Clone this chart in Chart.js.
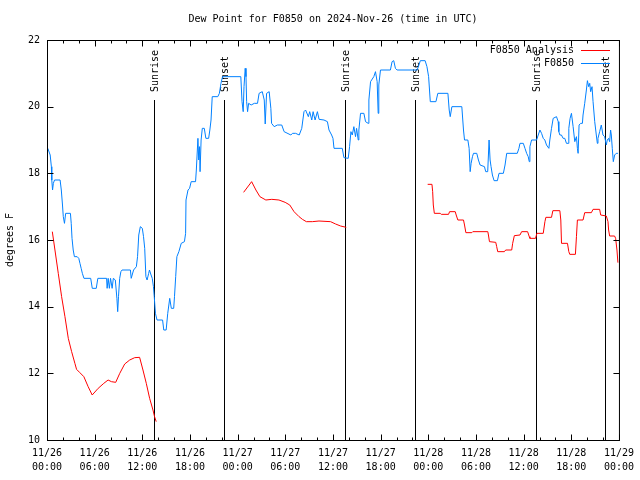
<!DOCTYPE html>
<html>
<head>
<meta charset="utf-8">
<title>Dew Point for F0850</title>
<script src="https://cdn.jsdelivr.net/npm/chart.js@4.4.1/dist/chart.umd.min.js"></script>
<style>
    html, body { margin: 0; padding: 0; background: #fff; }
    #c { display: block; }
</style>
</head>
<body>
<canvas id="c" width="640" height="480"></canvas>
<script>
// hours since 11/26 00:00 UTC, dew point in F
const obsPoints = [
    [0.1, 18.75], [0.4, 18.55], [0.55, 18.2], [0.6, 17.8], [0.7, 17.5], [0.8, 17.7],
    [0.95, 17.8], [1.65, 17.8], [1.8, 17.5], [1.95, 17.05], [2.05, 16.7], [2.2, 16.5],
    [2.35, 16.8], [2.95, 16.8], [3.05, 16.5], [3.15, 16.05], [3.3, 15.7], [3.45, 15.5],
    [3.8, 15.5], [4.0, 15.45], [4.15, 15.3], [4.3, 15.15], [4.45, 15.0], [4.65, 14.85],
    [5.5, 14.85], [5.7, 14.55], [6.2, 14.55], [6.4, 14.85], [7.5, 14.85], [7.57, 14.55],
    [7.7, 14.85], [7.85, 14.55], [8.0, 14.85], [8.2, 14.55], [8.35, 14.85], [8.6, 14.8],
    [8.8, 14.25], [8.9, 13.85], [9.0, 14.3], [9.15, 14.85], [9.3, 15.05], [9.45, 15.1],
    [10.5, 15.1], [10.6, 14.85], [10.9, 15.1], [11.25, 15.2], [11.4, 15.5], [11.55, 16.15],
    [11.75, 16.4], [12.0, 16.35], [12.15, 16.1], [12.3, 15.75], [12.45, 14.9], [12.6, 14.8],
    [12.8, 15.0], [12.9, 15.1], [13.1, 14.95], [13.25, 14.85], [13.4, 14.6], [13.5, 14.3],
    [13.65, 13.8], [13.85, 13.6], [14.55, 13.6], [14.7, 13.3], [15.0, 13.3], [15.2, 13.8],
    [15.45, 14.25], [15.65, 13.95], [15.95, 13.95], [16.05, 14.3], [16.2, 14.9], [16.35, 15.5],
    [16.6, 15.65], [16.9, 15.9], [17.3, 15.95], [17.45, 16.2], [17.5, 17.2], [17.75, 17.5],
    [17.95, 17.55], [18.15, 17.75], [18.7, 17.75], [18.8, 18.1], [19.0, 19.05], [19.1, 18.4],
    [19.2, 18.8], [19.27, 18.05], [19.4, 19.0], [19.55, 19.35], [19.8, 19.35], [20.0, 19.05],
    [20.35, 19.05], [20.5, 19.3], [20.65, 19.6], [20.8, 20.3], [21.5, 20.3], [21.7, 20.4],
    [21.9, 20.7], [22.1, 20.9], [24.4, 20.9], [24.55, 20.15], [24.7, 19.85], [24.8, 20.6],
    [24.95, 21.15], [25.05, 20.9], [25.13, 20.15], [25.25, 19.85], [25.38, 20.1], [25.7, 20.05],
    [26.1, 20.1], [26.5, 20.1], [26.7, 20.4], [27.1, 20.45], [27.35, 20.2], [27.47, 19.48],
    [27.64, 20.4], [27.97, 20.45], [28.18, 19.95], [28.27, 19.5], [28.6, 19.4], [29.0, 19.45],
    [29.55, 19.45], [29.85, 19.25], [30.7, 19.15], [30.9, 19.2], [31.3, 19.2], [31.75, 19.15],
    [32.07, 19.35], [32.35, 19.85], [32.55, 19.9], [32.9, 19.7], [33.07, 19.85], [33.33, 19.6],
    [33.5, 19.85], [33.75, 19.6], [34.04, 19.85], [34.25, 19.62], [34.87, 19.6], [35.3, 19.55],
    [35.5, 19.3], [35.83, 19.15], [36.0, 19.05], [36.13, 18.75], [37.17, 18.75], [37.38, 18.47],
    [37.92, 18.45], [38.09, 18.8], [38.26, 19.25], [38.43, 19.15], [38.63, 19.4], [38.84, 19.1],
    [38.97, 19.35], [39.18, 19.0], [39.26, 19.3], [39.47, 19.8], [39.89, 19.8], [40.1, 19.55],
    [40.43, 19.5], [40.52, 20.2], [40.73, 20.75], [41.14, 20.9], [41.35, 21.05], [41.56, 20.75],
    [41.69, 19.8], [41.77, 20.65], [41.98, 21.1], [43.23, 21.1], [43.44, 21.35], [43.65, 21.38],
    [43.86, 21.15], [44.07, 21.1], [46.6, 21.1], [47.0, 21.38], [47.6, 21.38], [47.83, 21.2],
    [48.04, 20.9], [48.25, 20.15], [48.96, 20.15], [49.2, 20.4], [50.47, 20.4], [50.63, 19.9],
    [50.76, 19.7], [50.97, 20.0], [52.22, 20.0], [52.43, 19.3], [52.56, 19.0], [52.98, 19.0],
    [53.14, 18.75], [53.27, 18.05], [53.39, 18.3], [53.56, 18.5], [53.69, 18.6], [54.1, 18.6],
    [54.31, 18.4], [54.52, 18.25], [55.07, 18.2], [55.23, 18.05], [55.48, 18.05], [55.65, 19.0],
    [55.78, 18.4], [55.9, 18.2], [56.07, 17.95], [56.28, 17.78], [56.7, 17.78], [56.9, 18.0],
    [57.45, 18.0], [57.66, 18.25], [57.87, 18.6], [59.2, 18.6], [59.41, 18.75], [59.54, 18.9],
    [59.96, 18.9], [60.17, 18.75], [60.38, 18.6], [60.58, 18.5], [60.71, 18.35], [60.79, 18.8],
    [61.0, 19.0], [61.63, 19.0], [61.84, 19.15], [62.05, 19.3], [62.26, 19.2], [62.47, 19.05],
    [62.67, 19.0], [62.88, 18.85], [63.18, 18.75], [63.3, 19.0], [63.51, 19.35], [63.72, 19.65],
    [64.14, 19.7], [64.35, 19.55], [64.43, 19.25], [64.56, 19.15], [64.76, 19.15], [64.97, 19.05],
    [65.18, 19.05], [65.39, 18.9], [65.6, 18.9], [65.69, 19.35], [65.85, 19.65], [66.02, 19.8],
    [66.23, 19.4], [66.44, 18.95], [66.65, 19.1], [66.77, 18.75], [66.86, 18.6], [66.98, 19.45],
    [67.19, 19.5], [67.4, 19.5], [67.48, 19.75], [67.69, 20.1], [67.9, 20.5], [68.03, 20.78],
    [68.19, 20.6], [68.32, 20.7], [68.44, 20.45], [68.61, 20.6], [68.74, 20.15], [68.95, 19.55],
    [69.15, 19.15], [69.28, 18.9], [69.36, 19.05], [69.57, 19.25], [69.78, 19.45], [69.99, 19.15],
    [70.2, 19.1], [70.41, 18.85], [70.53, 19.0], [70.7, 19.05], [70.83, 18.95], [70.95, 19.3],
    [71.04, 19.15], [71.16, 18.75], [71.29, 18.35], [71.46, 18.55], [71.66, 18.6], [71.87, 18.6]
]

// analysis, null = no data (gap in the line)
const analysisPoints = [
    [0.67, 16.25], [1.0, 15.7], [1.42, 15.0], [1.84, 14.3], [2.26, 13.7], [2.68, 13.05],
    [3.1, 12.65], [3.51, 12.3], [3.72, 12.12], [4.14, 12.02], [4.64, 11.9], [5.18, 11.6],
    [5.69, 11.35], [6.44, 11.55], [7.15, 11.7], [7.69, 11.8], [8.11, 11.75], [8.65, 11.73],
    [9.16, 12.0], [9.78, 12.28], [10.41, 12.4], [11.04, 12.47], [11.66, 12.48], [12.08, 12.1],
    [12.5, 11.7], [12.92, 11.25], [13.34, 10.9], [13.54, 10.7], [13.75, 10.55],
    [19.0, null],
    [24.75, 17.43], [25.76, 17.75], [26.3, 17.5], [26.8, 17.3], [27.55, 17.2], [28.3, 17.22],
    [29.2, 17.2], [29.98, 17.13], [30.56, 17.05], [31.1, 16.85], [31.73, 16.7], [32.15, 16.62],
    [32.65, 16.55], [33.4, 16.55], [34.24, 16.57], [35.7, 16.55], [36.33, 16.48], [36.96, 16.42],
    [37.67, 16.38],
    [43.0, null],
    [47.92, 17.67], [48.46, 17.67], [48.55, 17.45], [48.63, 17.05], [48.76, 16.8], [49.5, 16.8],
    [49.63, 16.77], [50.55, 16.77], [50.68, 16.85], [51.39, 16.85], [51.51, 16.75], [51.72, 16.6],
    [52.43, 16.6], [52.56, 16.45], [52.73, 16.22], [53.48, 16.22], [53.6, 16.25], [55.49, 16.25],
    [55.57, 16.15], [55.7, 15.95], [56.49, 15.93], [56.61, 15.8], [56.74, 15.65], [57.58, 15.65],
    [57.74, 15.7], [58.5, 15.7], [58.62, 15.9], [58.83, 16.13], [59.54, 16.15], [59.75, 16.25],
    [60.5, 16.25], [60.71, 16.1], [60.79, 16.05], [61.5, 16.05], [61.67, 16.2], [62.47, 16.2],
    [62.68, 16.55], [62.8, 16.68], [63.51, 16.68], [63.68, 16.88], [64.56, 16.88], [64.68, 16.6],
    [64.77, 15.9], [65.52, 15.9], [65.69, 15.65], [65.81, 15.57], [66.52, 15.57], [66.65, 16.1],
    [66.77, 16.6], [67.48, 16.6], [67.69, 16.82], [68.53, 16.82], [68.74, 16.92], [69.57, 16.92],
    [69.7, 16.75], [70.41, 16.72], [70.62, 16.55], [70.7, 16.3], [70.83, 16.12], [71.45, 16.12],
    [71.58, 16.05], [71.75, 15.7], [71.87, 15.32]
]

const sunHours = [13.45, 22.25, 37.55, 46.3, 61.6, 70.3]
const sunLabels = ['Sunrise', 'Sunset', 'Sunrise', 'Sunset', 'Sunrise', 'Sunset']
const seriesNames = ['F0850 Analysis', 'F0850']
const seriesColors = ['#ff0000', '#0080ff']
const xTickStep = 6
const yTickValues = [10, 12, 14, 16, 18, 20, 22]

const FONT = '10px "DejaVu Sans Mono", "Liberation Mono", monospace'

function hourLabel(h) {
    const day = 26 + Math.floor(h / 24)
    const hh = h % 24
    return ['11/' + day, (hh < 10 ? '0' : '') + hh + ':00']
}

const gnuplotLook = {
    id: 'gnuplotLook',
    beforeDatasetsDraw(chart) {
        const { ctx, chartArea: a, scales: { x } } = chart
        ctx.save()
        ctx.strokeStyle = '#000'
        ctx.lineWidth = 1
        const lineTop = a.top + (a.bottom - a.top) * 0.15
        sunHours.forEach((h, i) => {
            const px = Math.round(x.getPixelForValue(h)) + 0.5
            ctx.beginPath()
            ctx.moveTo(px, a.bottom)
            ctx.lineTo(px, lineTop)
            ctx.stroke()
            ctx.save()
            ctx.translate(px + 1, lineTop - 8)
            ctx.rotate(-Math.PI / 2)
            ctx.font = FONT
            ctx.fillStyle = '#000'
            ctx.textAlign = 'left'
            ctx.textBaseline = 'middle'
            ctx.fillText(sunLabels[i], 0, 0)
            ctx.restore()
        })
        ctx.restore()
    },
    afterDraw(chart) {
        const { ctx, chartArea: a, scales: { x, y } } = chart
        ctx.save()
        ctx.strokeStyle = '#000'
        ctx.lineWidth = 1
        const L = a.left + 0.5, R = a.right + 0.5, T = a.top + 0.5, B = a.bottom + 0.5
        ctx.strokeRect(L, T, R - L, B - T)

        ctx.beginPath()
        for (let h = 0; h <= 72; h += 2) {
            const px = Math.round(x.getPixelForValue(h)) + 0.5
            const len = h % xTickStep === 0 ? 6 : 3
            ctx.moveTo(px, B); ctx.lineTo(px, B - len)
            ctx.moveTo(px, T); ctx.lineTo(px, T + len)
        }
        yTickValues.forEach(v => {
            const py = Math.round(y.getPixelForValue(v)) + 0.5
            ctx.moveTo(L, py); ctx.lineTo(L + 6, py)
            ctx.moveTo(R, py); ctx.lineTo(R - 6, py)
        })
        ctx.stroke()

        ctx.font = FONT
        ctx.fillStyle = '#000'
        ctx.textAlign = 'center'
        ctx.textBaseline = 'middle'
        ctx.fillText('Dew Point for F0850 on 2024-Nov-26 (time in UTC)', (a.left + a.right) / 2, 19)

        ctx.save()
        ctx.translate(10, 240)
        ctx.rotate(-Math.PI / 2)
        ctx.fillText('degrees F', 0, 0)
        ctx.restore()

        // legend, top right inside the plot
        ctx.textAlign = 'right'
        seriesNames.forEach((name, i) => {
            const ly = 50 + i * 13
            ctx.fillStyle = '#000'
            ctx.fillText(name, 574, ly)
            ctx.strokeStyle = seriesColors[i]
            ctx.beginPath()
            ctx.moveTo(581, ly + 0.5)
            ctx.lineTo(610, ly + 0.5)
            ctx.stroke()
        })
        ctx.restore()
    }
}

new Chart(document.getElementById('c'), {
    type: 'line',
    data: {
        datasets: [
            {
                label: seriesNames[0],
                data: analysisPoints.map(p => ({ x: p[0], y: p[1] })),
                borderColor: seriesColors[0],
                borderWidth: 1,
                pointRadius: 0,
                tension: 0,
                spanGaps: false,
            },
            {
                label: seriesNames[1],
                data: obsPoints.map(p => ({ x: p[0], y: p[1] })),
                borderColor: seriesColors[1],
                borderWidth: 1,
                pointRadius: 0,
                tension: 0,
            },
        ],
    },
    options: {
        responsive: false,
        animation: false,
        devicePixelRatio: 1,
        layout: { padding: { top: 40, right: 19, left: 0, bottom: 0 } },
        plugins: { legend: { display: false }, title: { display: false }, tooltip: { enabled: false } },
        scales: {
            x: {
                type: 'linear',
                min: 0,
                max: 72,
                grid: { display: false, drawTicks: false },
                border: { display: false },
                afterFit: s => { s.height = 40 },
                ticks: {
                    stepSize: xTickStep,
                    autoSkip: false,
                    maxRotation: 0,
                    padding: 6,
                    color: '#000',
                    font: { family: '"DejaVu Sans Mono", "Liberation Mono", monospace', size: 10, lineHeight: 1.4 },
                    callback: v => hourLabel(v),
                },
            },
            y: {
                min: 10,
                max: 22,
                grid: { display: false, drawTicks: false },
                border: { display: false },
                afterFit: s => { s.width = 47 },
                ticks: {
                    stepSize: 2,
                    padding: 7,
                    color: '#000',
                    font: { family: '"DejaVu Sans Mono", "Liberation Mono", monospace', size: 10 },
                },
            },
        },
    },
    plugins: [gnuplotLook],
})
</script>
</body>
</html>
